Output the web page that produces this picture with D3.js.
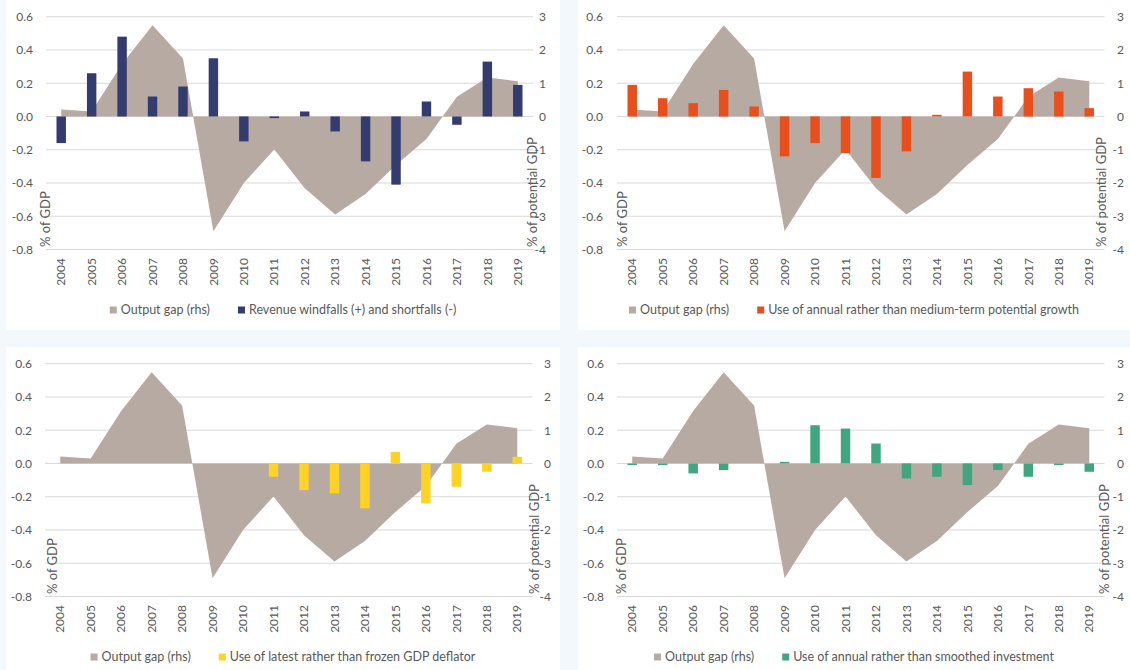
<!DOCTYPE html>
<html>
<head>
<meta charset="utf-8">
<script src="https://cdn.jsdelivr.net/npm/d3@7"></script>
<style>
  body { margin: 0; background: #f3f8fc; }
  svg { display: block; }
  text { font-family: Lato, "Open Sans", sans-serif; fill: #595959; }
</style>
</head>
<body>
<svg id="chart" width="1130" height="670"></svg>
<script>
// data
const years = ['2004', '2005', '2006', '2007', '2008', '2009', '2010', '2011',
               '2012', '2013', '2014', '2015', '2016', '2017', '2018', '2019'];

// output gap, % of potential GDP (rhs)
const outputGap = [0.21, 0.15, 1.58, 2.74, 1.74, -3.45, -2.0, -0.99,
                   -2.16, -2.95, -2.33, -1.46, -0.68, 0.59, 1.17, 1.06];

// bars, % of GDP (lhs)
const revenueWindfalls = [-0.16, 0.26, 0.48, 0.12, 0.18, 0.35, -0.15, -0.01,
                          0.03, -0.09, -0.27, -0.41, 0.09, -0.05, 0.33, 0.19];
const annualPotentialGrowth = [0.19, 0.11, 0.08, 0.16, 0.06, -0.24, -0.16, -0.22,
                               -0.37, -0.21, 0.01, 0.27, 0.12, 0.17, 0.15, 0.05];
const latestDeflator = [0, 0, 0, 0, 0, 0, 0, -0.08,
                        -0.16, -0.18, -0.27, 0.07, -0.24, -0.14, -0.05, 0.04];
const annualInvestment = [-0.01, -0.01, -0.06, -0.04, 0, 0.01, 0.23, 0.21,
                          0.12, -0.09, -0.08, -0.13, -0.04, -0.08, -0.01, -0.05];

const leftTicks = [0.6, 0.4, 0.2, 0, -0.2, -0.4, -0.6, -0.8];
const rightTicks = [3, 2, 1, 0, -1, -2, -3, -4];

const gapLabel = 'Output gap (rhs)';
const barLabels = [
  'Revenue windfalls (+) and shortfalls (-)',
  'Use of annual rather than medium-term potential growth',
  'Use of latest rather than frozen GDP deflator',
  'Use of annual rather than smoothed investment'
];
const barSeries = [revenueWindfalls, annualPotentialGrowth, latestDeflator, annualInvestment];
const barColors = ['#343b6f', '#e84f1c', '#ffd324', '#3fa680'];
const areaColor = '#b7aaa3';

// panel placement (panel 2 and 4 are cut at the right edge)
const panels = [
  { x: 6,   y: 0,   w: 554, h: 330, plotL: 40, plotR: 527, leftLab: 27, rightLab: 540, titleL: 39, titleR: 526 },
  { x: 578, y: 0,   w: 552, h: 330, plotL: 39, plotR: 526.5, leftLab: 25, rightLab: 546, titleL: 44, titleR: 523 },
  { x: 6,   y: 347, w: 554, h: 323, plotL: 39, plotR: 526.5, leftLab: 26, rightLab: 545, titleL: 46, titleR: 528 },
  { x: 578, y: 347, w: 552, h: 323, plotL: 39, plotR: 526.5, leftLab: 26, rightLab: 546, titleL: 43, titleR: 526 }
];

const svg = d3.select('#chart');

panels.forEach(function (p, i) {
  const g = svg.append('g').attr('transform', `translate(${p.x},${p.y})`);

  g.append('rect')
    .attr('width', p.w)
    .attr('height', p.h)
    .attr('fill', '#ffffff');

  const xScale = d3.scaleBand()
    .domain(years)
    .range([p.plotL, p.plotR])
    .paddingInner(0.69)
    .paddingOuter(0.345);
  const mid = d => xScale(d) + xScale.bandwidth() / 2;

  const yL = d3.scaleLinear().domain([-0.8, 0.6]).range([249.5, 16.7]);
  const yR = d3.scaleLinear().domain([-4, 3]).range([249.5, 16.7]);

  // gridlines
  g.selectAll('.grid')
    .data(leftTicks)
    .join('line')
    .attr('x1', p.plotL)
    .attr('x2', p.plotR)
    .attr('y1', d => yL(d))
    .attr('y2', d => yL(d))
    .attr('stroke', '#d9d9d9')
    .attr('stroke-width', 1);

  // output gap area
  const area = d3.area()
    .x((d, j) => mid(years[j]))
    .y0(yR(0))
    .y1(d => yR(d));
  g.append('path')
    .datum(outputGap)
    .attr('d', area)
    .attr('fill', areaColor);

  // bars
  const vals = barSeries[i];
  g.selectAll('.bar')
    .data(years)
    .join('rect')
    .attr('x', d => xScale(d))
    .attr('width', xScale.bandwidth())
    .attr('y', (d, j) => Math.min(yL(vals[j]), yL(0)))
    .attr('height', (d, j) => Math.abs(yL(vals[j]) - yL(0)))
    .attr('fill', barColors[i]);

  // left axis labels
  const leftAxis = g.append('g')
    .attr('transform', `translate(${p.leftLab},0)`)
    .call(d3.axisLeft(yL).tickValues(leftTicks).tickSize(0).tickPadding(0)
      .tickFormat(d => d.toFixed(1)));
  leftAxis.select('.domain').remove();

  // right axis labels
  const rightAxis = g.append('g')
    .attr('transform', `translate(${p.rightLab},0)`)
    .call(d3.axisLeft(yR).tickValues(rightTicks).tickSize(0).tickPadding(0)
      .tickFormat(d => String(d)));
  rightAxis.select('.domain').remove();

  // year labels
  const xAxis = g.append('g')
    .attr('transform', 'translate(0,258)')
    .call(d3.axisBottom(xScale).tickSize(0));
  xAxis.select('.domain').remove();
  xAxis.selectAll('text')
    .attr('transform', 'rotate(-90)')
    .attr('x', 0)
    .attr('y', 0)
    .attr('dy', '0.35em')
    .style('text-anchor', 'end');

  [leftAxis, rightAxis, xAxis].forEach(a => a.selectAll('text')
    .style('font-family', 'Lato, sans-serif')
    .style('font-size', '12px')
    .style('fill', '#595959'));

  // axis titles
  g.append('text')
    .attr('transform', `translate(${p.titleL},247) rotate(-90)`)
    .attr('dy', '0.35em')
    .style('font-size', '13px')
    .text('% of GDP');
  g.append('text')
    .attr('transform', `translate(${p.titleR},247) rotate(-90)`)
    .attr('dy', '0.35em')
    .style('font-size', '13px')
    .text('% of potential GDP');

  // legend
  const leg = g.append('g');
  const items = [
    { label: gapLabel, color: areaColor },
    { label: barLabels[i], color: barColors[i] }
  ];
  let cx = 0;
  items.forEach(function (it, k) {
    if (k > 0) cx += 28;
    leg.append('rect')
      .attr('x', cx)
      .attr('y', 310 - 3.5)
      .attr('width', 7)
      .attr('height', 7)
      .attr('fill', it.color);
    const t = leg.append('text')
      .attr('x', cx + 11)
      .attr('y', 310)
      .attr('dy', '0.35em')
      .style('font-size', '12.5px')
      .text(it.label);
    cx += 11 + t.node().getComputedTextLength();
  });
  leg.attr('transform', `translate(${(p.w - cx) / 2},0)`);
});
</script>
</body>
</html>
